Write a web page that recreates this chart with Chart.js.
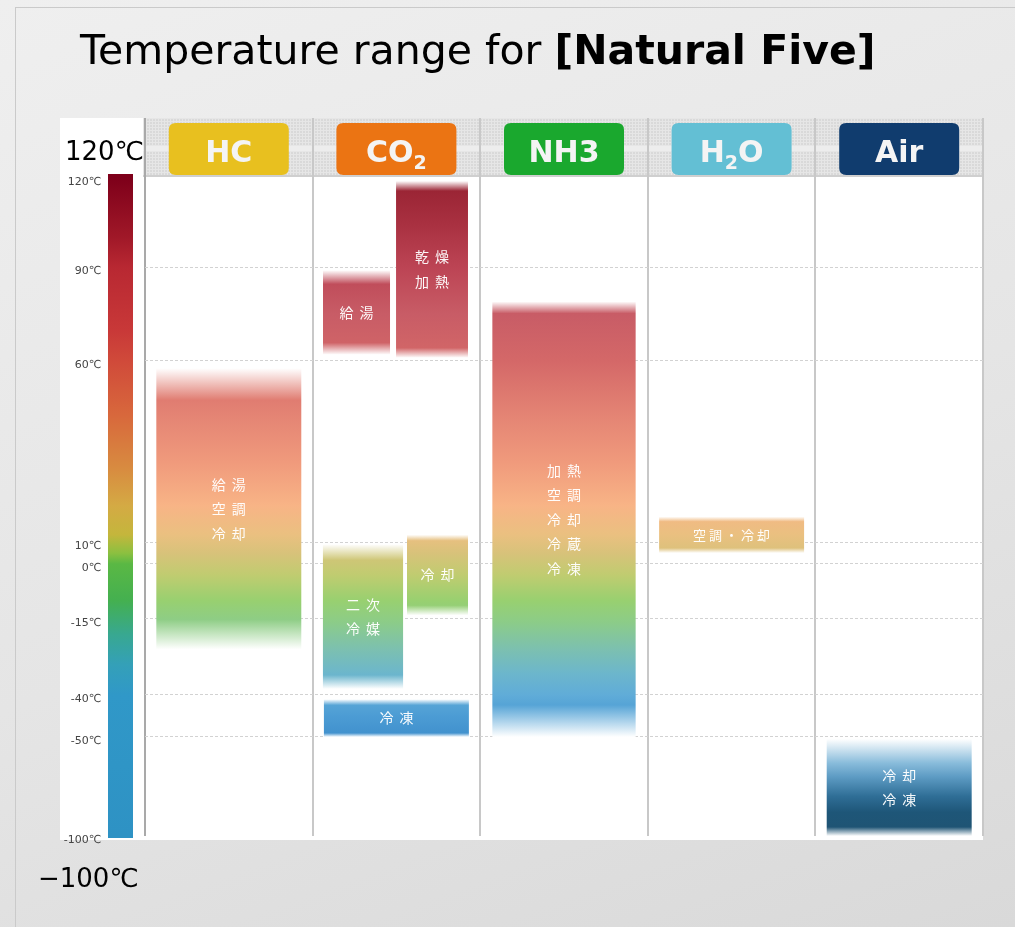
<!DOCTYPE html>
<html>
<head>
<meta charset="utf-8">
<script src="https://cdn.jsdelivr.net/npm/chart.js@4/dist/chart.umd.min.js"></script>
<style>
  html, body { margin: 0; padding: 0; }
  body {
    width: 1015px; height: 927px; position: relative; overflow: hidden;
    background: linear-gradient(160deg, #efefef 0%, #e5e5e5 55%, #d9d9d9 100%);
    font-family: 'DejaVu Sans', sans-serif;
  }
  #frame { position: absolute; left: 15px; top: 7px; width: 1100px; height: 1000px;
           border-left: 1px solid #cacaca; border-top: 1px solid #cacaca; }
  #chart { position: absolute; left: 0; top: 0; }
  .txt { position: absolute; z-index: 2; white-space: nowrap; color: #000; line-height: 1; }
  #title { left: 80px; top: 30px; font-size: 41px; }
  #title b { font-weight: bold; }
  #topLabel { left: 65px; top: 138px; font-size: 26px; }
  #bottomLabel { left: 38px; top: 865px; font-size: 26px; }
</style>
</head>
<body>
<div id="frame"></div>
<canvas id="chart" width="1015" height="927"></canvas>
<div class="txt" id="title">Temperature range for <b>[Natural Five]</b></div>
<div class="txt" id="topLabel">120℃</div>
<div class="txt" id="bottomLabel">−100℃</div>

<script>
// === data ===
const CATEGORIES = ['HC', 'CO₂', 'NH3', 'H₂O', 'Air'];
const Y_TICKS = [120, 90, 60, 10, 0, -15, -40, -50, -100];

// usable ranges [low, high] in °C, one slot per column
const HC_USE        = [[-25, 58], null, null, null, null];
const CO2_HOT_WATER = [null, [62, 89], null, null, null];
const CO2_DRYING    = [null, [61, 119], null, null, null];
const CO2_SECONDARY = [null, [-38, 9], null, null, null];
const CO2_COOLING   = [null, [-14, 12], null, null, null];
const CO2_FREEZING  = [null, [-50, -41], null, null, null];
const NH3_USE       = [null, null, [-50, 79], null, null];
const H2O_USE       = [null, null, null, [5, 17], null];
const AIR_USE       = [null, null, null, null, [-100, -51]];

const HC_TEXT            = ['給湯', '空調', '冷却'];
const CO2_HOT_WATER_TEXT = ['給湯'];
const CO2_DRYING_TEXT    = ['乾燥', '加熱'];
const CO2_SECONDARY_TEXT = ['二次', '冷媒'];
const CO2_COOLING_TEXT   = ['冷却'];
const CO2_FREEZING_TEXT  = ['冷凍'];
const NH3_TEXT           = ['加熱', '空調', '冷却', '冷蔵', '冷凍'];
const H2O_TEXT           = ['空調・冷却'];
const AIR_TEXT           = ['冷却', '冷凍'];

// === style ===
const HEADER_COLORS = ['#e8c01f', '#eb7413', '#1aa82e', '#63bfd4', '#103c6e'];
// where each tick sits, as a fraction of the plot height from the top
const TICK_FRACTIONS = [0, 0.1353, 0.2781, 0.5532, 0.5866, 0.6702, 0.7857, 0.8495, 1];

const BAR_STOPS = [
  [120, '#962030'], [105, '#a83040'], [90, '#bc4454'], [75, '#c85c66'], [60, '#d46868'],
  [45, '#e48474'], [32, '#f09a7c'], [20, '#f8b486'], [12, '#eac080'], [5, '#d8c27a'],
  [-3, '#c0cc70'], [-10, '#98d070'], [-16, '#8ccc88'], [-25, '#7cc0b0'], [-33, '#6cb6cc'],
  [-40, '#60acd8'], [-45, '#4c9cd4'], [-50, '#4090cc']
];
const AIR_STOPS = [
  [-50, '#d4eaf6'], [-60, '#9ccbe6'], [-70, '#5e9cc4'], [-80, '#2f6e96'], [-88, '#1e5678'], [-100, '#1f5272']
];
const COLORBAR_STOPS = [
  [120, '#7e001a'], [100, '#a01828'], [90, '#b82832'], [70, '#c83838'], [60, '#d04a3a'],
  [45, '#d8683c'], [30, '#d88c40'], [20, '#d4aa44'], [12, '#c4b63c'], [5, '#8cc040'],
  [0, '#5ab844'], [-10, '#44b050'], [-20, '#38a890'], [-30, '#34a0b8'], [-40, '#3098c8'], [-100, '#2e92c4']
];

// === piecewise temperature axis ===
function fracForValue(v) {
  if (v >= Y_TICKS[0]) return 0;
  for (let i = 0; i < Y_TICKS.length - 1; i++) {
    const a = Y_TICKS[i], b = Y_TICKS[i + 1];
    if (v <= a && v >= b) return TICK_FRACTIONS[i] + (a - v) / (a - b) * (TICK_FRACTIONS[i + 1] - TICK_FRACTIONS[i]);
  }
  return 1;
}
function valueForFrac(f) {
  if (f <= 0) return Y_TICKS[0];
  for (let i = 0; i < TICK_FRACTIONS.length - 1; i++) {
    const a = TICK_FRACTIONS[i], b = TICK_FRACTIONS[i + 1];
    if (f >= a && f <= b) return Y_TICKS[i] - (f - a) / (b - a) * (Y_TICKS[i] - Y_TICKS[i + 1]);
  }
  return Y_TICKS[Y_TICKS.length - 1];
}

class PiecewiseScale extends Chart.LinearScale {
  static id = 'piecewise';
  static defaults = {};
  buildTicks() { return Y_TICKS.map(value => ({ value })); }
  getPixelForValue(value) { return this.getPixelForDecimal(1 - fracForValue(value)); }
  getValueForPixel(pixel) { return valueForFrac(1 - this.getDecimalForPixel(pixel)); }
}
Chart.register(PiecewiseScale);

// === colour helpers ===
function hexRgb(h) { return [1, 3, 5].map(i => parseInt(h.slice(i, i + 2), 16)); }
function colorAt(stops, t) {
  if (t >= stops[0][0]) return stops[0][1];
  for (let i = 0; i < stops.length - 1; i++) {
    const [t0, c0] = stops[i], [t1, c1] = stops[i + 1];
    if (t <= t0 && t >= t1) {
      const k = (t0 - t) / (t0 - t1), a = hexRgb(c0), b = hexRgb(c1);
      return 'rgb(' + a.map((v, j) => Math.round(v + (b[j] - v) * k)).join(',') + ')';
    }
  }
  return stops[stops.length - 1][1];
}

function barGradient(c, scale, range, stops, fade) {
  const lo = Math.min(range[0], range[1]), hi = Math.max(range[0], range[1]);
  const top = scale.getPixelForValue(hi), bot = scale.getPixelForValue(lo);
  const h = bot - top;
  if (!(h > 0)) return colorAt(stops, hi);
  const ft = Math.min(fade[0] / h, 0.45), fb = Math.min(fade[1] / h, 0.45);
  const g = c.createLinearGradient(0, top, 0, bot);
  g.addColorStop(0, '#ffffff');
  g.addColorStop(ft, colorAt(stops, scale.getValueForPixel(top + fade[0])));
  for (const [t, col] of stops) {
    const p = (scale.getPixelForValue(t) - top) / h;
    if (p > ft && p < 1 - fb) g.addColorStop(p, col);
  }
  g.addColorStop(1 - fb, colorAt(stops, scale.getValueForPixel(bot - fade[1])));
  g.addColorStop(1, '#ffffff');
  return g;
}

function fill(ctx) {
  if (ctx.type !== 'data' || !ctx.raw || !ctx.chart.chartArea) return '#ffffff';
  const ds = ctx.dataset;
  return barGradient(ctx.chart.ctx, ctx.chart.scales.y, ctx.raw, ds.stops || BAR_STOPS, ds.fade);
}

// full-width bars sit centred in their column; CO2 sub-bars are grouped left/right
function fullBar(label, data, lines, fade, extra) {
  return Object.assign({ label, data, lines, fade, grouped: false,
    categoryPercentage: 1, barPercentage: 0.865 }, extra || {});
}
function subBar(label, data, lines, fade, stack, cat, bar) {
  return { label, data, lines, fade, grouped: true, skipNull: true, stack,
    categoryPercentage: cat, barPercentage: bar };
}

const datasets = [
  fullBar('HC', HC_USE, HC_TEXT, [32, 30]),
  subBar('CO2 給湯', CO2_HOT_WATER, CO2_HOT_WATER_TEXT, [14, 12], 'L', 0.952, 0.84),
  subBar('CO2 乾燥加熱', CO2_DRYING, CO2_DRYING_TEXT, [10, 10], 'R', 0.85, 1.01),
  subBar('CO2 二次冷媒', CO2_SECONDARY, CO2_SECONDARY_TEXT, [16, 14], 'L', 0.797, 1.2),
  subBar('CO2 冷却', CO2_COOLING, CO2_COOLING_TEXT, [6, 10], 'R', 0.981, 0.742),
  fullBar('CO2 冷凍', CO2_FREEZING, CO2_FREEZING_TEXT, [6, 4]),
  fullBar('NH3', NH3_USE, NH3_TEXT, [12, 32], { barPercentage: 0.855 }),
  fullBar('H2O', H2O_USE, H2O_TEXT, [5, 5], { textSize: 13, textGap: 3 }),
  fullBar('Air', AIR_USE, AIR_TEXT, [24, 9], { stops: AIR_STOPS })
];

// === plugins ===
const panelPlugin = {
  id: 'panel',
  beforeDraw(chart) {
    const c = chart.ctx, a = chart.chartArea, y = chart.scales.y;
    c.save();
    c.fillStyle = '#ffffff';
    c.fillRect(60, 118, a.right - 60, 722);
    // header band with a fine hatch
    const hx = a.left - 2, hw = a.right - hx, hy = 118, hh = a.top - hy - 2;
    c.fillStyle = '#d9d9d9';
    c.fillRect(hx, hy, hw, hh);
    c.fillStyle = '#e6e6e6';
    for (let x = hx; x < a.right; x += 3) c.fillRect(x, hy, 1, hh);
    for (let yy = hy; yy < hy + hh; yy += 3) c.fillRect(hx, yy, hw, 1);
    c.fillStyle = '#ededed';
    c.fillRect(hx, 146, hw, 5);
    c.fillStyle = '#cfcfcf';
    c.fillRect(hx, a.top - 3, hw, 2);
    // temperature colour bar
    const top = y.getPixelForValue(120) - 4, bot = y.getPixelForValue(-100) + 2;
    const g = c.createLinearGradient(0, top, 0, bot);
    for (const [t, col] of COLORBAR_STOPS) {
      const p = (y.getPixelForValue(t) - top) / (bot - top);
      g.addColorStop(Math.max(0, Math.min(1, p)), col);
    }
    c.fillStyle = g;
    c.fillRect(108, top, 25, bot - top);
    c.restore();
  }
};

const barTextPlugin = {
  id: 'barText',
  afterDatasetsDraw(chart) {
    const c = chart.ctx;
    c.save();
    c.fillStyle = 'rgba(255,255,255,0.96)';
    c.textBaseline = 'middle';
    c.textAlign = 'left';
    chart.data.datasets.forEach((ds, di) => {
      if (!ds.lines) return;
      const size = ds.textSize || 14, gap = ds.textGap != null ? ds.textGap : 6;
      c.font = size + 'px "Noto Sans CJK JP", sans-serif';
      const meta = chart.getDatasetMeta(di);
      meta.data.forEach((el, i) => {
        if (ds.data[i] == null) return;
        const cy = (el.y + el.base) / 2, lh = 24.5;
        ds.lines.forEach((line, li) => {
          const chars = Array.from(line);
          const widths = chars.map(ch => c.measureText(ch).width);
          const total = widths.reduce((s, w) => s + w, 0) + gap * (chars.length - 1);
          let x = el.x - total / 2;
          const ly = cy + (li - (ds.lines.length - 1) / 2) * lh;
          chars.forEach((ch, k) => { c.fillText(ch, x, ly); x += widths[k] + gap; });
        });
      });
    });
    c.restore();
  }
};

const SUB = '₀₁₂₃₄₅₆₇₈₉';
function roundRect(c, x, y, w, h, r) {
  c.beginPath();
  c.moveTo(x + r, y); c.lineTo(x + w - r, y); c.quadraticCurveTo(x + w, y, x + w, y + r);
  c.lineTo(x + w, y + h - r); c.quadraticCurveTo(x + w, y + h, x + w - r, y + h);
  c.lineTo(x + r, y + h); c.quadraticCurveTo(x, y + h, x, y + h - r);
  c.lineTo(x, y + r); c.quadraticCurveTo(x, y, x + r, y);
  c.closePath();
}

const headerPlugin = {
  id: 'header',
  afterDraw(chart) {
    const c = chart.ctx, xs = chart.scales.x;
    c.save();
    chart.data.labels.forEach((lab, i) => {
      const cx = xs.getPixelForValue(i);
      c.fillStyle = HEADER_COLORS[i];
      roundRect(c, cx - 60, 123, 120, 52, 7);
      c.fill();
      // label with real subscripts
      const parts = Array.from(lab).map(ch => {
        const k = SUB.indexOf(ch);
        return k >= 0 ? { t: String(k), sub: true } : { t: ch, sub: false };
      });
      const fontFor = p => 'bold ' + (p.sub ? 19 : 30) + 'px "DejaVu Sans", sans-serif';
      let total = 0;
      parts.forEach(p => { c.font = fontFor(p); p.w = c.measureText(p.t).width; total += p.w; });
      let x = cx - total / 2;
      c.fillStyle = '#f4f4f4';
      c.textBaseline = 'alphabetic';
      c.textAlign = 'left';
      parts.forEach(p => { c.font = fontFor(p); c.fillText(p.t, x, p.sub ? 169 : 162); x += p.w; });
    });
    c.restore();
  }
};

new Chart(document.getElementById('chart'), {
  type: 'bar',
  data: { labels: CATEGORIES, datasets },
  options: {
    responsive: false,
    devicePixelRatio: 1,
    animation: false,
    events: [],
    layout: { padding: { left: 60, top: 118, right: 32, bottom: 91 } },
    elements: { bar: { backgroundColor: fill, borderWidth: 0, borderSkipped: false } },
    plugins: { legend: { display: false }, tooltip: { enabled: false } },
    scales: {
      x: {
        type: 'category',
        position: 'top',
        offset: true,
        ticks: { display: false },
        border: { display: false },
        grid: {
          offset: true,
          color: ctx => ctx.index === 0 ? '#a9a9a9' : '#c8c8c8',
          lineWidth: 2,
          drawTicks: true,
          tickLength: 60
        },
        afterFit: s => { s.height = 60; }
      },
      y: {
        type: 'piecewise',
        min: -100,
        max: 120,
        stacked: false,
        border: { display: false, dash: [3, 2] },
        grid: {
          drawTicks: false,
          color: ctx => (ctx.tick && (ctx.tick.value === 120 || ctx.tick.value === -100)) ? 'rgba(0,0,0,0)' : '#d2d2d2',
          lineWidth: 1
        },
        ticks: {
          autoSkip: false,
          padding: 44,
          labelOffset: 4,
          color: '#444444',
          font: { family: 'DejaVu Sans', size: 11 },
          callback: v => v + '℃'
        },
        afterFit: s => { s.width = 85; }
      }
    }
  },
  plugins: [panelPlugin, barTextPlugin, headerPlugin]
});
</script>
</body>
</html>
